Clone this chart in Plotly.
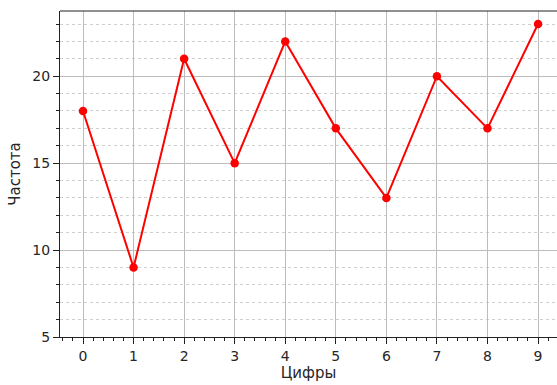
import plotly.graph_objects as go

digits = [0, 1, 2, 3, 4, 5, 6, 7, 8, 9]
counts = [18, 9, 21, 15, 22, 17, 13, 20, 17, 23]
x_label = "Цифры"
y_label = "Частота"

tick_font = dict(family="DejaVu Sans", size=14, color="#262626")
title_font = dict(family="DejaVu Sans", size=15, color="#262626")

fig = go.Figure()
fig.add_trace(go.Scatter(
    x=digits, y=counts, mode="lines+markers",
    line=dict(color="#ff0000", width=2),
    marker=dict(color="#ff0000", size=8.5),
    showlegend=False,
))

fig.update_layout(
    width=557, height=385,
    margin=dict(l=60, r=0, t=11, b=48),
    paper_bgcolor="white", plot_bgcolor="white",
    font=tick_font,
    xaxis=dict(
        range=[-0.455, 9.375], tickmode="array", tickvals=digits,
        ticks="outside", ticklen=6, tickwidth=1, tickcolor="#222",
        tickfont=tick_font,
        showline=True, linecolor="#222", linewidth=1.2,
        showgrid=True, gridcolor="#bcbcbc", gridwidth=1.4,
        zeroline=False,
        minor=dict(dtick=0.2, ticks="outside", ticklen=3, tickcolor="#222", showgrid=False),
        title=dict(text=x_label, font=title_font, standoff=4),
    ),
    yaxis=dict(
        range=[5, 23.75], tickmode="array", tickvals=[5, 10, 15, 20],
        ticks="outside", ticklen=6, tickwidth=1, tickcolor="#222",
        tickfont=tick_font,
        showline=True, linecolor="#222", linewidth=1.2,
        showgrid=True, gridcolor="#bcbcbc", gridwidth=1.4,
        zeroline=False,
        minor=dict(dtick=1, ticks="outside", ticklen=3, tickcolor="#222",
                   showgrid=True, gridcolor="#cfcfcf", griddash="dot", gridwidth=1),
        title=dict(text=y_label, font=title_font, standoff=8),
    ),
)

# top spine
fig.add_shape(type="line", xref="paper", yref="paper", x0=0, x1=1, y0=1, y1=1,
              line=dict(color="#222", width=1.2))

fig.write_html("out.html")
